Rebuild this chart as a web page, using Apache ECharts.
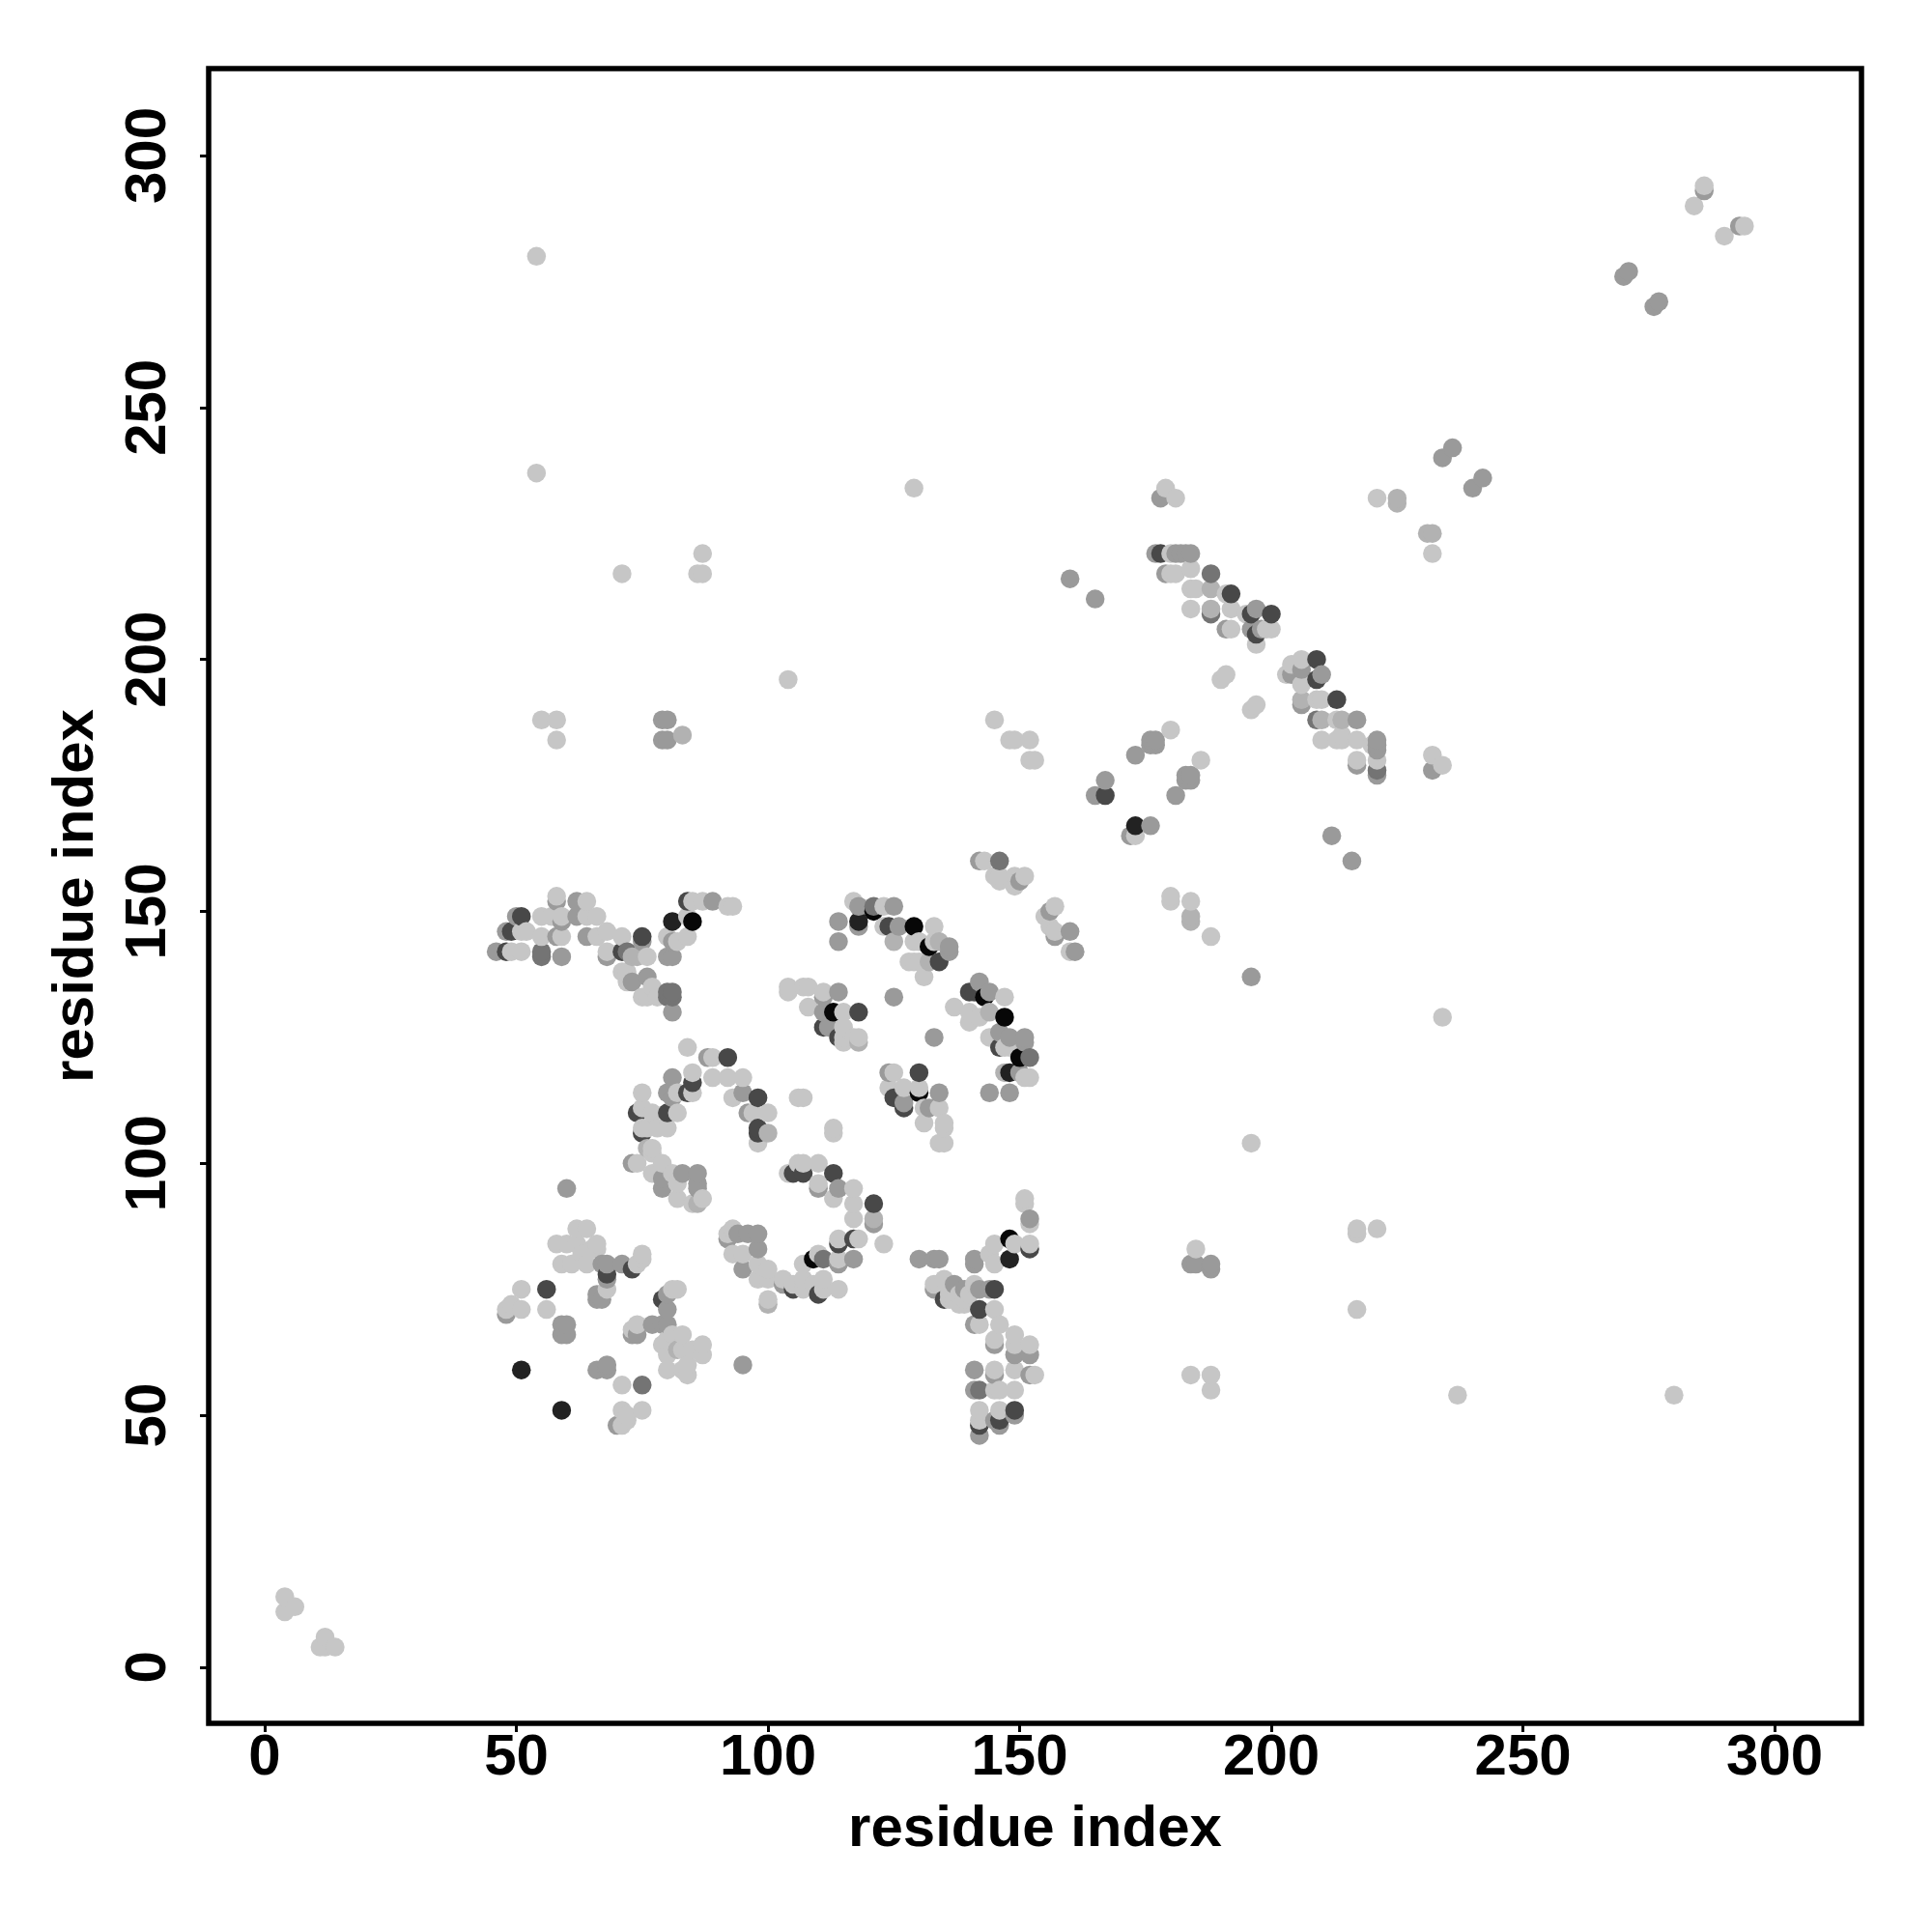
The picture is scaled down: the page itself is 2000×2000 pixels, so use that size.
<!DOCTYPE html>
<html><head><meta charset="utf-8">
<script src="https://cdn.jsdelivr.net/npm/echarts@6/dist/echarts.min.js"></script>
<style>html,body{margin:0;padding:0;background:#fff}#c{width:2000px;height:2000px}</style>
</head><body><div id="c"></div>
<script>
const tickValues = [0, 50, 100, 150, 200, 250, 300];
const axisName = 'residue index';

// contact points [i, j], grouped by strength (weakest first)
const weakest = [[54,280],[54,237],[129,234],[71,217],[87,221],[86,217],[87,217],[104,196],[55,188],[58,188],[58,184],[145,188],[148,184],[149,184],[152,184],[152,180],[153,180],[284,290],[286,294],[290,284],[294,286],[221,232],[232,221],[232,181],[234,179],[179,234],[181,232],[180,153],[180,152],[184,152],[188,145],[234,129],[196,104],[217,87],[217,86],[221,87],[217,71],[185,83],[184,58],[188,58],[188,55],[237,54],[280,54],[196,190],[197,191],[190,196],[191,197],[180,186],[186,180],[173,165],
[180,217],[181,217],[184,218],[184,214],[185,214],[184,210],[192,210],[191,213],[195,209],[192,206],[199,206],[200,206],[197,203],[206,200],[204,199],[203,197],[206,195],[209,192],[210,192],[213,188],[210,184],[213,184],[214,184],[214,185],[217,184],[217,180],[220,183],[221,180],[180,221],
[49,142],[51,142],[51,146],[52,146],[55,149],[55,145],[58,153],[57,149],[59,149],[59,145],[64,152],[64,149],[66,149],[66,145],[68,146],[71,145],[68,142],[76,141],[71,138],[72,138],[72,136],[77,135],[75,133],[76,133],[78,133],[80,145],[82,144],[84,145],[84,149],[85,152],[87,152],[92,151],[93,151],
[84,123],[89,121],[85,118],[89,117],[92,117],[95,117],[75,114],[82,114],[85,114],[93,113],[75,111],[77,110],[82,110],[97,110],[100,110],[75,107],[76,107],[78,107],[80,107],[98,104],[77,103],[77,102],[74,100],[77,98],[79,100],[81,98],[82,96],[82,93],[85,92],[87,93],[106,113],[107,113],[113,107],[113,106],
[104,135],[104,134],[107,135],[108,135],[111,134],[108,131],[115,130],[115,127],[115,125],[115,124],[117,125],[118,125],
[117,152],[123,151],[123,147],[129,144],[130,144],[133,147],[133,144],[128,140],[129,140],[130,140],[131,137],[137,131],[140,130],[140,128],[142,129],[147,133],[144,125],[147,123],[148,123],[152,117],[151,117],
[125,118],[124,115],[127,115],[130,115],[131,111],[134,111],[131,108],[135,108],[135,107],[134,104],[135,104],
[143,160],[145,157],[146,157],[149,157],[151,157],[149,155],[146,156],[157,151],[155,149],[157,146],[156,147],[160,142],
[104,98],[106,100],[107,100],[110,100],[110,96],[113,93],[117,95],[117,92],[117,89],[123,84],[114,85],[118,85],[110,82],[114,81],[107,80],[107,77],[105,76],[109,76],[111,77],[111,75],[114,75],[107,75],[103,77],[100,79],[100,73],[92,86],[93,87],[93,82],[95,82],[98,77],[100,77],[98,80],
[145,84],[144,82],[145,80],[149,84],[152,84],[151,93],[151,92],[152,88],[133,76],[135,77],[136,73],[138,72],[138,74],[141,76],[145,71],[142,68],[146,68],[145,65],[149,66],[149,64],[152,64],[145,59],[149,59],[153,58],[145,55],[146,55],[149,55],[142,51],[142,49],[146,51],
[134,76],[136,75],[137,73],[136,74],[139,72],[139,73],[140,74],
[62,87],[64,87],[58,84],[60,84],[62,84],[66,84],[59,80],[61,80],[63,82],[64,80],[65,83],[66,83],[74,80],[75,82],[75,81],[51,75],[49,72],[48,71],[51,71],[56,71],[68,75],[73,67],[74,68],[82,75],[81,75],[80,65],[79,64],[81,66],[83,66],[83,63],[87,64],[87,62],[85,63],[80,59],[80,62],[83,59],[84,58],[84,60],[71,56],[75,51],[71,51],[72,50],[71,48],[72,49],
[4,14],[4,11],[6,12],[12,6],[11,4],[14,4],[12,4]];

const mild = [[83,185],[225,232],[225,231],[231,225],[232,225],[184,149],[184,148],[188,214],[188,210],[206,192],[210,188],[214,188],[76,103],[86,92],[118,124],[125,144],[132,140],[144,130],[147,118],[134,144],[73,141],[74,141],[100,106],[121,89],[82,63],[100,72]];

const medium = [[80,188],[79,188],[79,184],[80,184],[160,216],[165,212],[286,293],[293,286],[270,276],[271,277],[276,270],[277,271],[234,240],[236,242],[240,234],[242,236],[232,178],[212,165],[216,160],[178,232],[196,137],[184,80],[185,80],[188,80],[188,79],
[176,184],[177,184],[176,183],[177,183],[173,181],[183,177],[184,177],[183,176],[184,176],[181,173],[176,167],[167,176],[165,173],[172,165],
[177,221],[181,221],[182,221],[183,221],[184,221],[179,217],[197,210],[191,206],[196,206],[198,206],[206,198],[204,197],[210,197],[206,191],[217,188],[217,179],[221,184],[221,183],[221,182],[221,177],
[46,142],[48,146],[50,149],[58,152],[59,148],[58,145],[59,141],[62,152],[62,149],[64,145],[68,141],[75,144],[73,136],[76,137],[81,130],[80,141],[81,141],[81,144],[89,152],
[88,121],[81,117],[80,114],[81,113],[95,114],[96,110],[73,100],[79,97],[79,95],[83,98],[86,98],[86,96],[86,95],[60,95],
[114,134],[111,133],[111,130],[112,127],
[114,148],[114,144],[118,151],[118,147],[125,151],[126,147],[136,143],[136,142],[125,133],[133,125],
[142,136],[144,134],[146,126],[148,125],[151,125],[151,124],[150,118],[144,114],[148,114],
[124,118],[134,114],[127,112],[132,111],[142,160],[156,150],[150,156],[160,146],[161,142],[157,145],
[110,95],[114,95],[121,88],[114,80],[117,81],[103,76],[92,85],[94,86],[96,86],[98,86],[98,83],[95,79],
[130,81],[133,81],[134,81],[141,80],[141,81],[152,89],[133,75],[137,76],[139,75],[142,75],[144,75],[141,68],[145,64],[149,62],[152,62],[141,59],[145,58],[152,58],[141,55],[145,49],[146,48],[149,50],[142,46],
[68,80],[67,80],[68,77],[71,80],[48,70],[66,73],[67,73],[66,74],[60,68],[60,66],[59,68],[59,66],[66,59],[68,60],[68,59],[70,48],[73,66],[74,66],[77,68],[79,68],[80,68],[80,71],[80,74],[95,60]];

const strong = [[188,217],[209,188],[55,142],[55,141],[72,142],[80,134],[81,134],[80,133],[81,133],[121,151],[111,81],[142,55],[75,56],[221,178],[188,209],[146,160],[152,121]];

const veryStrong = [[178,221],[192,213],[196,209],[200,209],[197,205],[209,200],[209,196],[213,192],[167,173],[48,142],[49,146],[51,149],[71,142],[75,145],[92,121],[98,113],[74,110],[84,114],[98,107],[98,106],[75,106],[105,98],[107,98],[113,98],[121,92],[85,116],[111,127],[114,125],[118,130],[124,147],[134,140],[130,118],[125,113],[127,111],[140,134],[141,134],[146,123],[114,84],[117,85],[110,74],[105,75],[135,73],[145,75],[142,71],[142,48],[146,49],[149,51],[152,83],[68,78],[73,79],[56,75],[79,73],[80,110],[84,152]];

const strongest = [[173,167],[81,148],[118,148],[148,118],[148,81],[51,59],[59,51]];

const extreme = [[85,148],[113,130],[121,150],[129,147],[132,143],[143,133],[147,129],[150,121],[130,114],[109,81],[148,85]];

const strengthGroups = [weakest, mild, medium, strong, veryStrong, strongest, extreme];
const greys = ['#c6c6c6', '#b2b2b2', '#9a9a9a', '#747474', '#484848', '#222222', '#070707'];

const points = [];
strengthGroups.forEach((g, level) => g.forEach(p => points.push([p[0], p[1], level])));
points.sort((a, b) => a[0] - b[0] || a[1] - b[1]);

const font = {fontFamily: '"Liberation Sans", Arial, sans-serif', fontWeight: 'bold', fontSize: 60, color: '#000'};
const axisCommon = {
  type: 'value', min: -11.13, max: 317.25, splitLine: {show: false},
  axisLine: {show: false, onZero: false},
  axisTick: {show: true, length: 9, inside: false, lineStyle: {color: '#000', width: 3}, customValues: tickValues},
  name: axisName, nameLocation: 'middle', nameTextStyle: font
};
const chart = echarts.init(document.getElementById('c'), null, {renderer: 'canvas'});
chart.setOption({
  animation: false, backgroundColor: '#fff',
  grid: {left: 216, right: 73, top: 71, bottom: 216, show: true, borderColor: '#000', borderWidth: 5.5, backgroundColor: 'transparent'},
  xAxis: Object.assign({}, axisCommon, {nameGap: 80,
    axisLabel: Object.assign({}, font, {margin: 6, customValues: tickValues})}),
  yAxis: Object.assign({}, axisCommon, {nameGap: 107,
    axisLabel: Object.assign({}, font, {rotate: 90, margin: 32, customValues: tickValues})}),
  series: [{type: 'scatter', symbol: 'circle', symbolSize: 19.5, clip: false, large: false,
    data: points, encode: {x: 0, y: 1},
    itemStyle: {opacity: 1, color: p => greys[p.data[2]]}}]
});
</script></body></html>
